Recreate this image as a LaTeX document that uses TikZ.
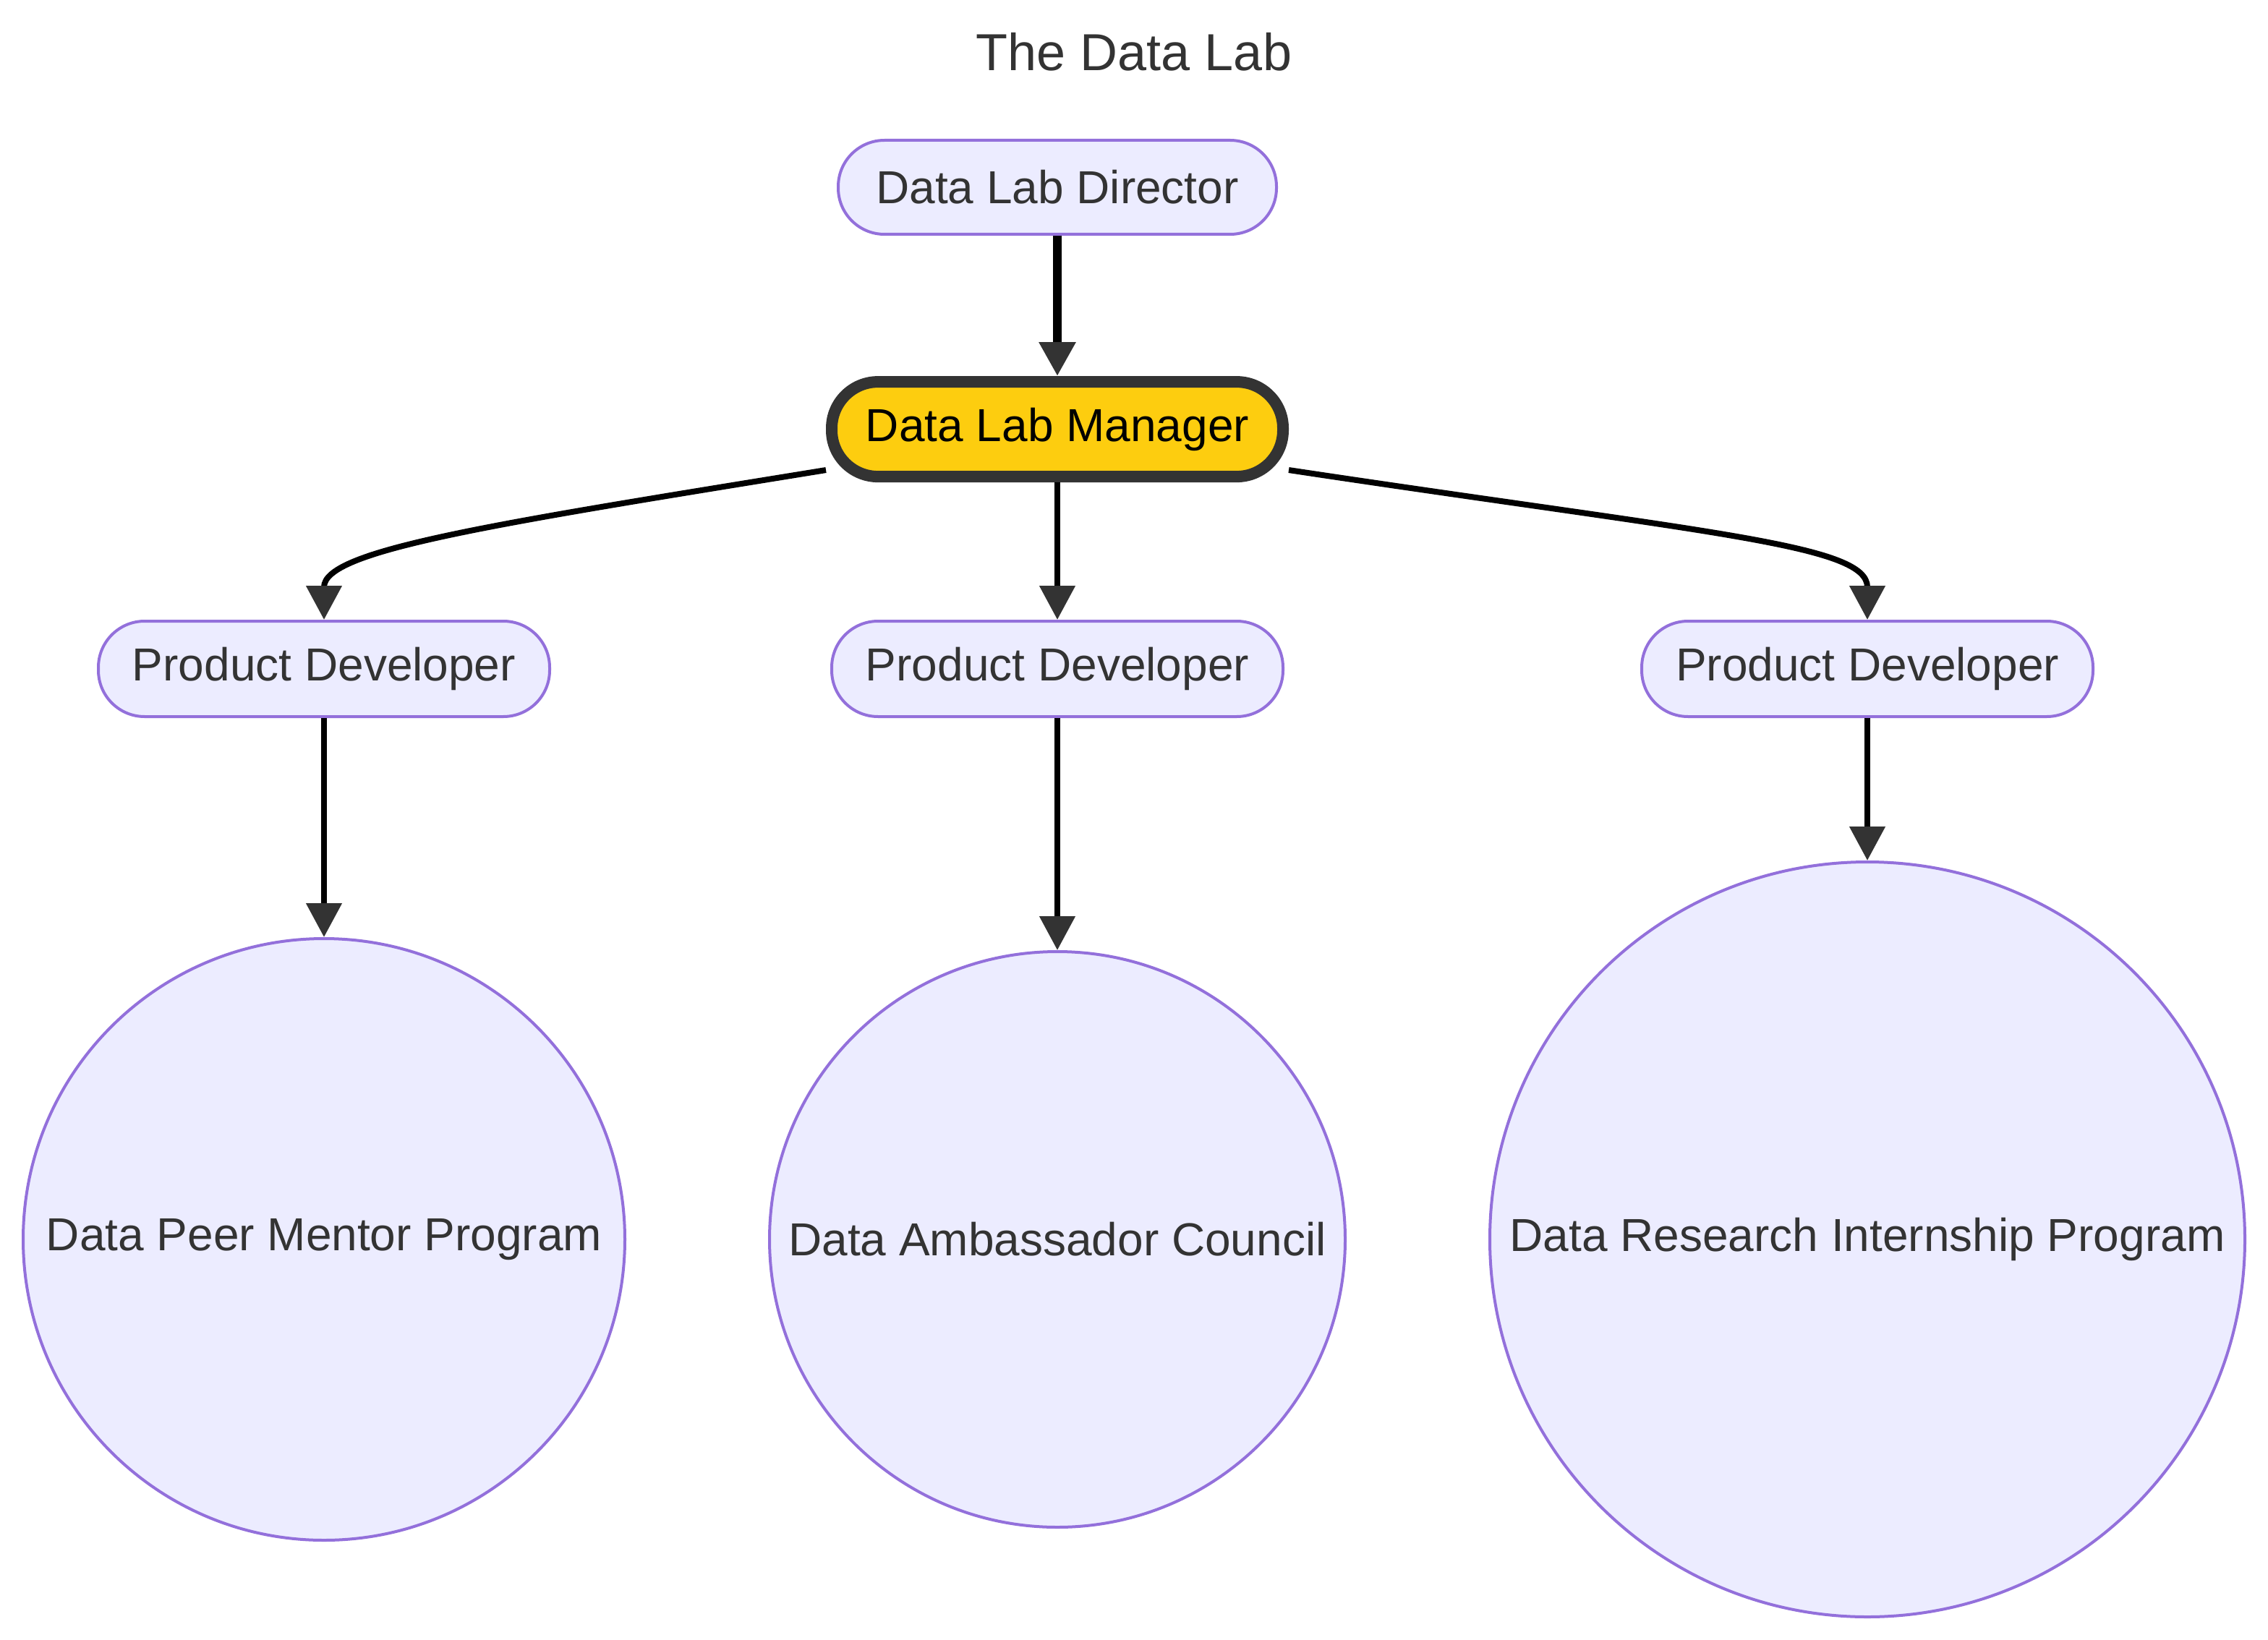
\documentclass[tikz,border=0pt]{standalone}
\usepackage{fontspec}
\setmainfont{Liberation Sans}
\usepackage{tikz}
\usetikzlibrary{arrows.meta, positioning, shapes}

\definecolor{mmfill}{HTML}{ECECFF}
\definecolor{mmborder}{HTML}{9370DB}
\definecolor{mmtext}{HTML}{333333}
\definecolor{mmarrow}{HTML}{333333}
\definecolor{mmyellow}{HTML}{FDCD0F}

\begin{document}
\begin{tikzpicture}[
			x=1pt, y=-1pt,
			every node/.style={font=\fontsize{16pt}{19pt}\selectfont, text=mmtext},
			role/.style={draw=mmborder, fill=mmfill, line width=1pt, rounded corners=16pt,
				minimum width=156pt, minimum height=33pt, inner sep=0pt},
			lead/.style={role, draw=mmtext, fill=mmyellow, line width=4pt, text=black,
				minimum height=32.75pt},
			program/.style={draw=mmborder, fill=mmfill, line width=1pt, circle, inner sep=0pt},
			link/.style={line width=2pt, -{Triangle[length=11.75pt, width=12pt, color=mmarrow]}}
		]
		\useasboundingbox (0,0) rectangle (784,567);
		\node (title) at (392,18) {\fontsize{18pt}{21pt}\selectfont The Data Lab};

		\node[role, minimum width=151.5pt, minimum height=32.5pt] (director) at (365.5,64.75) {Data Lab Director};
		\node[lead] (manager) at (365.5,148.4) {Data Lab Manager};

		\node[role] (devA) at (112,231.25) {Product Developer};
		\node[role] (devB) at (365.5,231.25) {Product Developer};
		\node[role] (devC) at (645.5,231.25) {Product Developer};

		\node[program, minimum size=208pt] (peer) at (112,428.5) {Data Peer Mentor Program};
		\node[program, minimum size=199pt] (ambassador) at (365.5,428.5) {Data Ambassador Council};
		\node[program, minimum size=261pt] (research) at (645.5,428.5) {Data Research Internship Program};

		\draw[link, line width=3pt] (director) -- (manager);
		\draw[link] (manager.190) .. controls +(-117,19) and +(0,-24) .. (devA.north);
		\draw[link] (manager.350) .. controls +(146,22) and +(0,-26) .. (devC.north);
		\draw[link] (manager) -- (devB);

		\draw[link] (devA) -- (peer);
		\draw[link] (devB) -- (ambassador);
		\draw[link] (devC) -- (research);
	\end{tikzpicture}
\end{document}
